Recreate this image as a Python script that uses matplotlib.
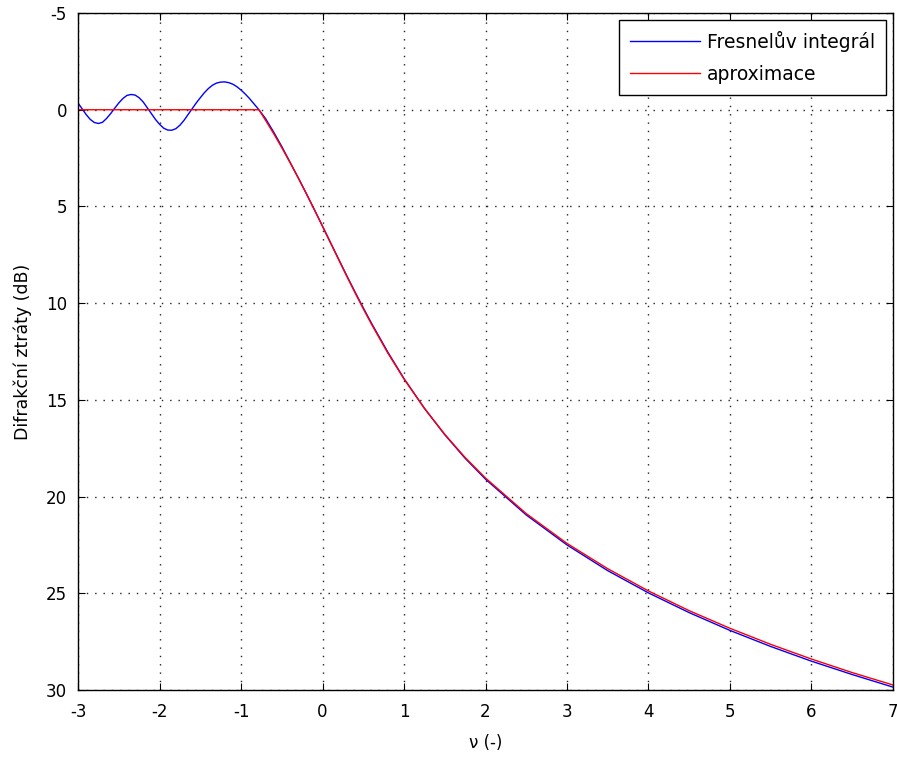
import matplotlib.pyplot as plt

plt.rcParams['font.family'] = ['DejaVu Sans']
plt.rcParams['axes.unicode_minus'] = False

# Ztráty šířením přes ostrou hranu (Fresnelův integrál)
v_fresnel = [-3.0, -2.95, -2.9, -2.85, -2.8, -2.75, -2.7, -2.65, -2.6, -2.55,
             -2.5, -2.45, -2.4, -2.35, -2.3, -2.25, -2.2, -2.15, -2.1, -2.05,
             -2.0, -1.95, -1.9, -1.85, -1.8, -1.75, -1.7, -1.65, -1.6, -1.55,
             -1.5, -1.45, -1.4, -1.35, -1.3, -1.25, -1.2, -1.15, -1.1, -1.05,
             -1.0, -0.95, -0.9, -0.85, -0.8, -0.75, -0.7, -0.6, -0.5, -0.4,
             -0.3, -0.2, -0.1, 0.0, 0.1, 0.2, 0.3, 0.4, 0.5, 0.6,
             0.8, 1.0, 1.25, 1.5, 1.75, 2.0, 2.5, 3.0, 3.5, 4.0,
             4.5, 5.0, 5.5, 6.0, 6.5, 7.0]
J_fresnel = [-0.35, -0.05, 0.25, 0.5, 0.66, 0.71, 0.65, 0.45, 0.2, -0.08,
             -0.35, -0.58, -0.74, -0.79, -0.76, -0.62, -0.4, -0.1, 0.2, 0.5,
             0.75, 0.95, 1.05, 1.06, 0.98, 0.8, 0.55, 0.25, -0.05, -0.35,
             -0.62, -0.88, -1.1, -1.27, -1.38, -1.43, -1.44, -1.4, -1.32, -1.19,
             -1.02, -0.82, -0.6, -0.35, -0.1, 0.17, 0.45, 1.15, 1.9, 2.7,
             3.5, 4.32, 5.16, 6.02, 6.88, 7.74, 8.6, 9.43, 10.24, 11.03,
             12.52, 13.9, 15.43, 16.8, 18.02, 19.1, 20.95, 22.5, 23.83, 24.98,
             26.0, 26.92, 27.75, 28.51, 29.2, 29.85]

# Aproximace (ITU-R P.526), pro v < -0.78 nulové ztráty
v_aprox = [-3.0, -0.78, -0.7, -0.6, -0.5, -0.4, -0.3, -0.2, -0.1, 0.0,
           0.1, 0.2, 0.3, 0.4, 0.5, 0.6, 0.8, 1.0, 1.25, 1.5,
           1.75, 2.0, 2.5, 3.0, 3.5, 4.0, 4.5, 5.0, 5.5, 6.0,
           6.5, 7.0]
J_aprox = [0.0, 0.0, 0.54, 1.23, 1.96, 2.72, 3.51, 4.33, 5.17, 6.03,
           6.9, 7.77, 8.63, 9.47, 10.29, 11.08, 12.57, 13.92, 15.44, 16.78,
           17.98, 19.04, 20.88, 22.42, 23.73, 24.88, 25.90, 26.81, 27.64, 28.40,
           29.10, 29.74]

x_ticks = [-3, -2, -1, 0, 1, 2, 3, 4, 5, 6, 7]
y_ticks = [-5, 0, 5, 10, 15, 20, 25, 30]

fig = plt.figure(figsize=(8.97, 7.58), dpi=100)
ax = fig.add_axes([0.087, 0.0897, 0.9085, 0.8931])

ax.plot(v_fresnel, J_fresnel, color='#0000ff', linewidth=1.0, label='Fresnelův integrál')
ax.plot(v_aprox, J_aprox, color='#ff0000', linewidth=1.0, label='aproximace')

ax.set_xlim(-3, 7)
ax.set_ylim(30, -5)
ax.set_xticks(x_ticks)
ax.set_yticks(y_ticks)
ax.tick_params(direction='in', top=True, right=True, labelsize=12, length=5)
ax.tick_params(axis='x', pad=9)
ax.tick_params(axis='y', pad=8)
ax.grid(True, color='#222222', linestyle=(0, (1, 5)), linewidth=1.0)
for s in ax.spines.values():
    s.set_linewidth(1.0)

ax.set_xlabel('ν (-)', fontsize=12, labelpad=10)
ax.set_ylabel('Difrakční ztráty (dB)', fontsize=12.5, labelpad=10)

leg = ax.legend(loc='upper right', fontsize=13.5, fancybox=False, framealpha=1,
                edgecolor='black', handlelength=3.7, labelspacing=0.7,
                borderaxespad=0.35, handletextpad=0.4, borderpad=0.6)
leg.get_frame().set_linewidth(1.0)

fig.savefig('out.png', dpi=100)
